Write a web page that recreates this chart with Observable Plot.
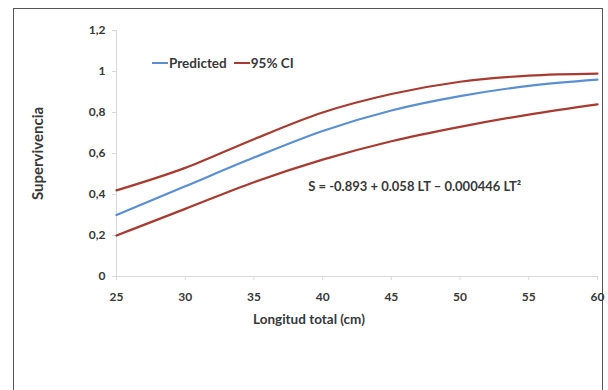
<!DOCTYPE html>
<html><head><meta charset="utf-8">
<script src="https://cdn.jsdelivr.net/npm/d3@7"></script>
<script src="https://cdn.jsdelivr.net/npm/@observablehq/plot@0.6"></script>
<style>
html,body{margin:0;padding:0;background:#fff;overflow:hidden;width:608px;height:390px;}
#wrap{position:relative;width:608px;height:390px;font-family:Lato,"Open Sans",sans-serif;}
#frame{position:absolute;left:13px;top:8px;width:590px;height:420px;border:1.5px solid #555;box-sizing:border-box;}
.lbl{position:absolute;font-weight:700;font-size:13.5px;color:#383838;white-space:nowrap;}
#legend{position:absolute;left:152px;top:54px;height:18px;font-weight:700;font-size:13.5px;color:#383838;display:flex;align-items:center;}
#legend .sw{display:inline-block;width:16px;height:2px;margin-right:1px;}
#chart{position:absolute;left:0;top:0;}
</style></head>
<body><div id="wrap"><div id="frame"></div><div id="chart"></div>
<div id="legend"><span class="sw" style="background:#5b8fd3"></span><span>Predicted</span><span class="sw" style="background:#a83a30;margin-left:7px"></span><span>95% CI</span></div>
<div class="lbl" id="xlab" style="left:253px;top:311px;">Longitud total (cm)</div>
</div>
<script>
const lengths = [25, 30, 35, 40, 45, 50, 55, 60];
const predicted = [0.30, 0.44, 0.58, 0.71, 0.81, 0.88, 0.93, 0.96];
const upperCI = [0.42, 0.53, 0.67, 0.80, 0.89, 0.95, 0.98, 0.99];
const lowerCI = [0.20, 0.33, 0.46, 0.57, 0.66, 0.73, 0.79, 0.84];
const xTicks = [25, 30, 35, 40, 45, 50, 55, 60];
const yTicks = [0, 0.2, 0.4, 0.6, 0.8, 1, 1.2];
const equation = "S = -0.893 + 0.058 LT – 0.000446 LT²";

const rows = (vals) => lengths.map((x, i) => ({x, y: vals[i]}));
const fmt = d => String(d).replace(".", ",");

const chart = Plot.plot({
  width: 608, height: 390,
  marginLeft: 116, marginRight: 11, marginTop: 30, marginBottom: 114,
  style: {fontFamily: "Lato, 'Open Sans', sans-serif", fontSize: "12px", fontWeight: 700, color: "#383838", background: "transparent"},
  x: {domain: [25, 60]},
  y: {domain: [0, 1.2]},
  marks: [
    Plot.ruleX([25], {stroke: "#d9d9d9", strokeWidth: 1}),
    Plot.ruleY([0], {stroke: "#d9d9d9", strokeWidth: 1}),
    Plot.axisY(yTicks, {tickFormat: fmt, tickSize: 4, tickPadding: 7, stroke: "#d9d9d9", fill: "#383838", label: null}),
    Plot.axisY({ticks: [], label: "Supervivencia", labelAnchor: "center", labelArrow: "none", labelOffset: 84, fontSize: 15, fill: "#383838"}),
    Plot.axisX(xTicks, {tickSize: 4, tickPadding: 12, stroke: "#d9d9d9", fill: "#383838", label: null}),
    Plot.line(rows(upperCI), {x: "x", y: "y", stroke: "#a83a30", strokeWidth: 2.2, curve: "monotone-x"}),
    Plot.line(rows(lowerCI), {x: "x", y: "y", stroke: "#a83a30", strokeWidth: 2.2, curve: "monotone-x"}),
    Plot.line(rows(predicted), {x: "x", y: "y", stroke: "#5b8fd3", strokeWidth: 2.2, curve: "monotone-x"}),
    Plot.text([equation], {x: 46.7, y: 0.435, text: d => d, fill: "#383838", fontSize: 13, fontWeight: 700})
  ]
});
document.getElementById("chart").appendChild(chart);
</script></body></html>
